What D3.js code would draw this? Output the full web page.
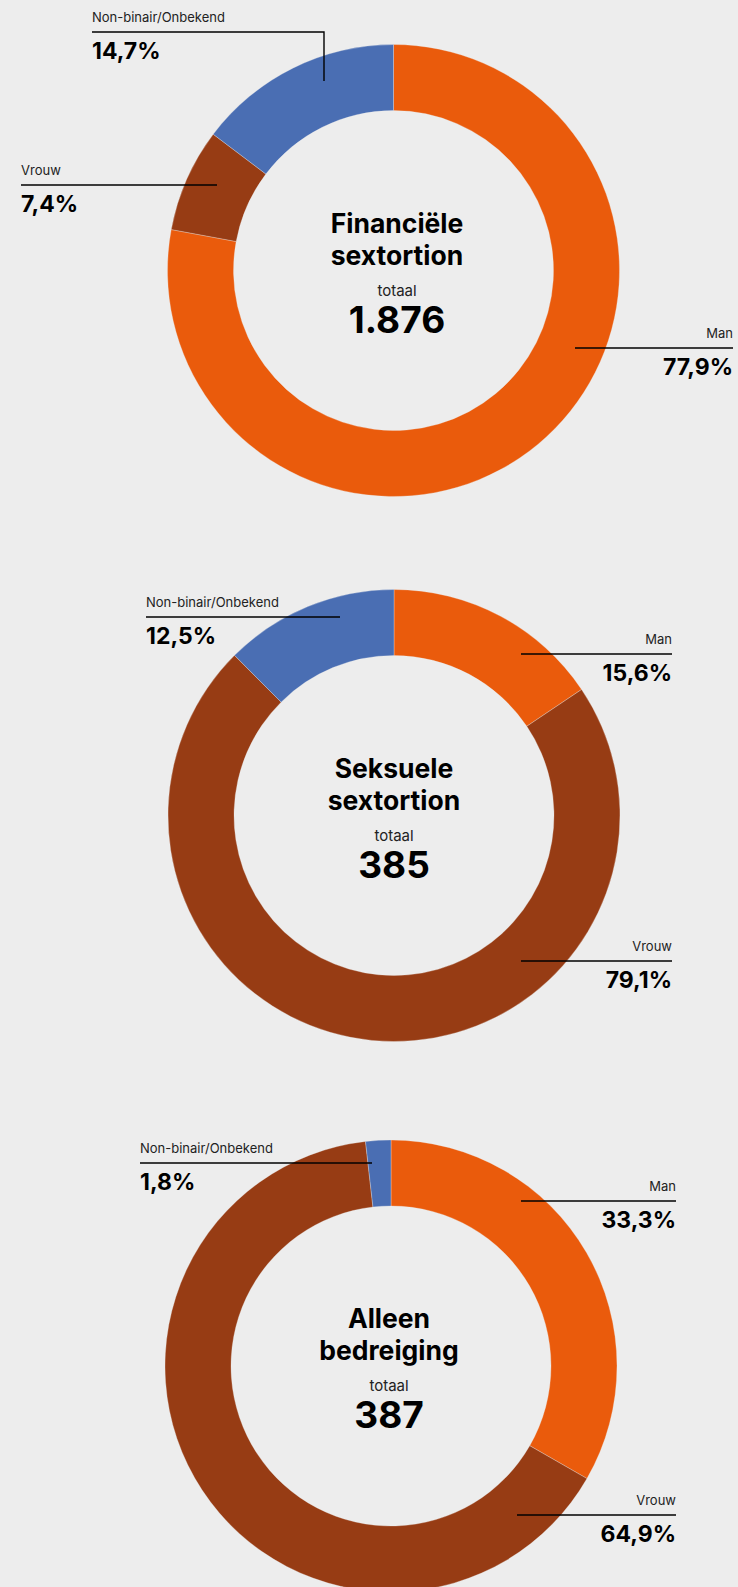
<!DOCTYPE html>
<html>
<head>
<meta charset="utf-8">
<script src="https://cdn.jsdelivr.net/npm/d3@7"></script>
<style>
  html, body { margin: 0; padding: 0; background: #ededed; }
  svg { display: block; font-family: Inter, "Noto Sans", sans-serif; }
</style>
</head>
<body>
<svg id="chart" width="738" height="1587"></svg>
<script>
// ---- data ----
const categories = ["Man", "Vrouw", "Non-binair/Onbekend"];
const chartTitles = [["Financiële", "sextortion"], ["Seksuele", "sextortion"], ["Alleen", "bedreiging"]];
const totals = ["1.876", "385", "387"];
// slice shares (as drawn)
const financieleValues = [77.9, 7.4, 14.7];
const seksueleValues = [60, 277, 48];
const bedreigingValues = [33.3, 64.9, 1.8];
// printed percentage labels
const financieleLabels = ["77,9%", "7,4%", "14,7%"];
const seksueleLabels = ["15,6%", "79,1%", "12,5%"];
const bedreigingLabels = ["33,3%", "64,9%", "1,8%"];

// ---- styling / layout ----
const colors = d3.scaleOrdinal().domain(categories).range(["#ea5b0c", "#973c14", "#4a6eb3"]);
const outerR = 226, innerR = 160;

const layouts = [
  { cx: 393.5, cy: 270.5, textX: 397,
    labels: [
      { side: "right", x: 733, lineY: 348, tipX: 575 },
      { side: "left",  x: 21,  lineY: 185, tipX: 217 },
      { side: "left",  x: 92,  lineY: 32,  tipX: 324, tipY: 81 }
    ] },
  { cx: 394, cy: 815.5, textX: 394,
    labels: [
      { side: "right", x: 672, lineY: 654, tipX: 521 },
      { side: "right", x: 672, lineY: 961, tipX: 521 },
      { side: "left",  x: 146, lineY: 617, tipX: 340 }
    ] },
  { cx: 391, cy: 1366, textX: 389,
    labels: [
      { side: "right", x: 676, lineY: 1201, tipX: 521 },
      { side: "right", x: 676, lineY: 1515, tipX: 517 },
      { side: "left",  x: 140, lineY: 1163, tipX: 372 }
    ] }
];

const datasets = [
  { values: financieleValues, labels: financieleLabels },
  { values: seksueleValues, labels: seksueleLabels },
  { values: bedreigingValues, labels: bedreigingLabels }
];

const svg = d3.select("#chart");
svg.append("rect").attr("width", 738).attr("height", 1587).attr("fill", "#ededed");

const pie = d3.pie().sort(null).value(d => d.value);
const arc = d3.arc().innerRadius(innerR).outerRadius(outerR);

datasets.forEach((ds, i) => {
  const L = layouts[i];
  const rows = categories.map((c, k) => ({ cat: c, value: ds.values[k], label: ds.labels[k] }));
  const g = svg.append("g");

  g.append("g").attr("transform", `translate(${L.cx},${L.cy})`)
    .selectAll("path").data(pie(rows)).join("path")
    .attr("d", arc)
    .attr("fill", d => colors(d.data.cat))
    .attr("stroke", "#ededed").attr("stroke-width", 0.3);

  // center text
  const ct = g.append("g").attr("text-anchor", "middle").attr("fill", "#000");
  ct.append("text").attr("x", L.textX).attr("y", L.cy - 38)
    .attr("font-size", 26.5).attr("font-weight", 700).text(chartTitles[i][0]);
  ct.append("text").attr("x", L.textX).attr("y", L.cy - 6)
    .attr("font-size", 26.5).attr("font-weight", 700).text(chartTitles[i][1]);
  ct.append("text").attr("x", L.textX).attr("y", L.cy + 25)
    .attr("font-size", 15).attr("font-weight", 400).attr("fill", "#222").text("totaal");
  ct.append("text").attr("x", L.textX).attr("y", L.cy + 62)
    .attr("font-size", 37).attr("font-weight", 700).text(totals[i]);

  // labels
  rows.forEach((r, k) => {
    const a = L.labels[k];
    const anchor = a.side === "left" ? "start" : "end";
    let pts = [[a.x, a.lineY], [a.tipX, a.lineY]];
    if (a.tipY !== undefined) pts.push([a.tipX, a.tipY]);
    g.append("path").attr("d", d3.line()(pts))
      .attr("fill", "none").attr("stroke", "#000").attr("stroke-width", 1.4);
    g.append("text").attr("x", a.x).attr("y", a.lineY - 10)
      .attr("text-anchor", anchor).attr("font-size", 13).attr("fill", "#222").text(r.cat);
    g.append("text").attr("x", a.x).attr("y", a.lineY + 27)
      .attr("text-anchor", anchor).attr("font-size", 23).attr("font-weight", 700).attr("fill", "#000").text(r.label);
  });
});
</script>
</body>
</html>
